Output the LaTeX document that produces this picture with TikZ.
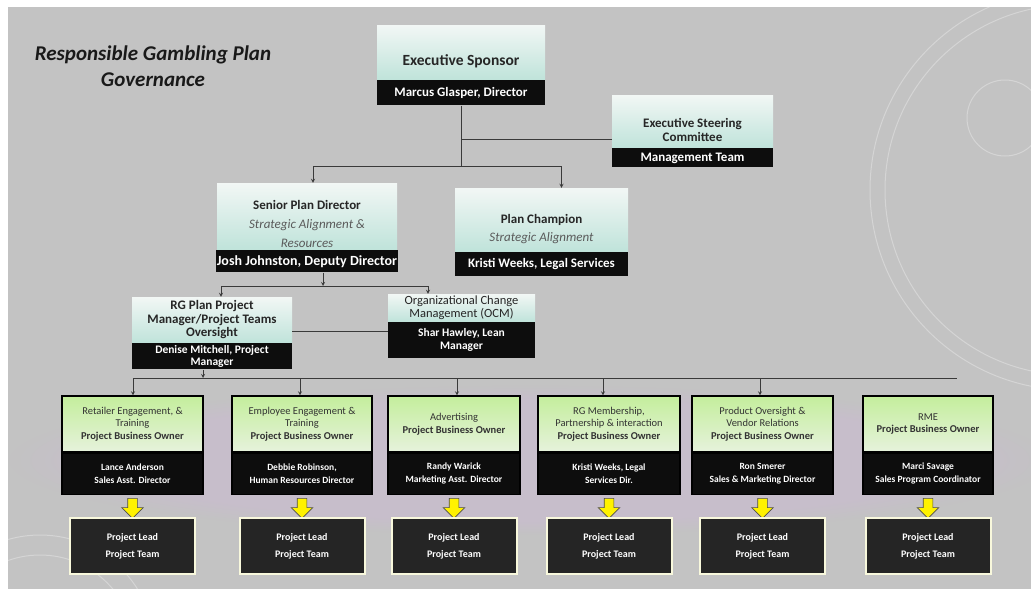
\documentclass[tikz,border=0pt]{standalone}
\usepackage{fontspec}
\setmainfont{Carlito}
\usepackage{tikz}
\usetikzlibrary{shapes.arrows,fadings}
\definecolor{bg}{HTML}{C3C3C3}
\definecolor{glow}{HTML}{CDB8D6}
\definecolor{tealtop}{HTML}{F2F7F5}
\definecolor{tealbot}{HTML}{BFE3DA}
\definecolor{greentop}{HTML}{C4EE9C}
\definecolor{greenbot}{HTML}{E6F2DC}
\definecolor{band}{HTML}{0D0D0D}
\definecolor{cream}{HTML}{F8F8DC}
\definecolor{wire}{HTML}{3A3A3A}
\definecolor{softtext}{HTML}{5A5A5A}
\newcommand{\sink}[1]{\rule{0pt}{#1}}

\begin{document}
\begin{tikzpicture}[x=1pt,y=-1pt,>=stealth,
  topbox/.style={top color=tealtop,bottom color=tealbot,draw=none,inner sep=0pt,align=center,text=black!85},
  namebox/.style={fill=band,text=white,inner sep=1pt,align=center,anchor=north},
  ownerbox/.style={top color=greentop,bottom color=greenbot,draw=black,line width=1.2pt,align=center,font=\fontsize{10.5}{12.5}\selectfont,text=black!80,inner sep=1pt},
  leadbox/.style={fill=band!90!white,draw=cream,line width=2pt,text=white,align=center,font=\bfseries\fontsize{10}{17}\selectfont,minimum width=125pt,minimum height=56pt},
  yarrow/.style={single arrow,fill=yellow,draw=black!70,line width=0.6pt,shape border rotate=270,minimum height=20pt,inner sep=4.5pt,single arrow head extend=6pt,single arrow head indent=0pt},
  link/.style={draw=wire,line width=0.8pt}]
	\useasboundingbox (0,0) rectangle (1031,589);
	\fill[bg] (8,7) rectangle (1031,589);
	\begin{scope}
	\clip (8,7) rectangle (1031,589);
	\fill[glow,opacity=0.45,path fading=circle with fuzzy edge 20 percent] (10,385) rectangle (1050,535);
	\tikzstyle{every path}=[draw=white,opacity=0.3,line width=1pt]
	\draw (1005,118) circle (38pt);
	\draw (1070,190) circle (200pt);
	\draw (1070,190) circle (185pt);
	\draw (40,650) circle (95pt);
	\draw (40,650) circle (115pt);
	\end{scope}

	\node[font=\bfseries\itshape\fontsize{21}{26}\selectfont,align=center,text=black!90] (title) at (153,66) {Responsible Gambling Plan\\Governance};

	\node[topbox,minimum width=168pt,minimum height=55pt,font=\bfseries\fontsize{15.5}{18}\selectfont] (sponsor) at (461,52.5) {\sink{28pt}Executive Sponsor};
	\node[namebox,minimum width=168pt,minimum height=25pt,font=\bfseries\fontsize{13}{15}\selectfont] (sponsorname) at (sponsor.south) {Marcus Glasper, Director};

	\node[topbox,minimum width=161pt,minimum height=53pt,font=\bfseries\fontsize{13}{14}\selectfont] (steering) at (692.5,121.5) {\sink{26pt}Executive Steering\\Committee};
	\node[namebox,minimum width=161pt,minimum height=19pt,font=\bfseries\fontsize{13}{15}\selectfont] (steeringname) at (steering.south) {Management Team};

	\node[topbox,minimum width=180pt,minimum height=67pt,font=\fontsize{13}{19}\selectfont] (senior) at (307,216.5) {\sink{25pt}\textbf{Senior Plan Director}\\\textcolor{softtext}{\itshape Strategic Alignment \&}\\\textcolor{softtext}{\itshape Resources}};
	\node[namebox,minimum width=180pt,minimum height=22pt,font=\bfseries\fontsize{14}{15}\selectfont] (seniorname) at (senior.south) {Josh Johnston, Deputy Director};

	\node[topbox,minimum width=173pt,minimum height=64pt,font=\fontsize{13}{18}\selectfont] (champion) at (541.5,220) {\sink{28pt}\textbf{Plan Champion}\\\textcolor{softtext}{\itshape Strategic Alignment}};
	\node[namebox,minimum width=173pt,minimum height=24pt,font=\bfseries\fontsize{13}{15}\selectfont] (championname) at (champion.south) {Kristi Weeks, Legal Services};

	\node[topbox,minimum width=160pt,minimum height=46pt,font=\bfseries\fontsize{13}{13.5}\selectfont] (manager) at (212,320) {RG Plan Project\\Manager/Project Teams\\Oversight};
	\node[namebox,minimum width=160pt,minimum height=26pt,font=\bfseries\fontsize{11.5}{12}\selectfont] (managername) at (manager.south) {Denise Mitchell, Project\\Manager};

	\node[topbox,minimum width=147pt,minimum height=28pt,font=\fontsize{12.5}{13}\selectfont] (ocm) at (461.5,308) {Organizational Change\\Management (OCM)};
	\node[namebox,minimum width=147pt,minimum height=36pt,font=\bfseries\fontsize{11.5}{13}\selectfont] (ocmname) at (ocm.south) {Shar Hawley, Lean\\Manager};

	\foreach \i/\x/\w/\task/\who in {
		1/132.5/141/{Retailer Engagement, \&\\Training}/{Lance Anderson\\Sales Asst. Director},
		2/302/140/{Employee Engagement \&\\Training}/{Debbie Robinson,\\Human Resources Director},
		3/454/132/{Advertising}/{Randy Warick\\Marketing Asst. Director},
		4/609/142/{RG Membership,\\Partnership \& interaction}/{Kristi Weeks, Legal\\Services Dir.},
		5/762.5/141/{Product Oversight \&\\Vendor Relations}/{Ron Smerer\\Sales \& Marketing Director},
		6/928/130/{RME}/{Marci Savage\\Sales Program Coordinator}} {
		\node[ownerbox,minimum width=\w pt,minimum height=56pt] (owner\i) at (\x,424) {\task\\\textbf{Project Business Owner}};
		\node[namebox,draw=black,line width=1.2pt,minimum width=\w pt,minimum height=41pt,font=\bfseries\fontsize{9.5}{13.5}\selectfont] (ownername\i) at (owner\i.south) {\who};
		\node[yarrow] (push\i) at (\x,506) {};
		\node[leadbox] (lead\i) at (\x,546) {Project Lead\\Project Team};
	}

	\coordinate (top) at (461,166);
	\draw[link] (sponsorname.south) -- (top);
	\draw[link,->] (top) -| ([xshift=6pt]senior.north);
	\draw[link,->] (top) -| ([xshift=20pt]champion.north);
	\coordinate (steerin) at ([yshift=-18pt]steering.west);
	\draw[link] (steerin) -- (steerin -| top);

	\coordinate (mid) at (323,286);
	\coordinate (midl) at (221,286);
	\coordinate (midr) at (428,286);
	\draw[link,->] ([xshift=16pt]seniorname.south) -- (mid);
	\draw[link] (midl) -- (midr);
	\draw[link,->] (midl) -- (midl |- manager.north);
	\draw[link,->] (midr) -- (midr |- ocm.north);
	\coordinate (peer) at ([yshift=-11pt]manager.east);
	\draw[link] (peer) -- (peer -| ocmname.west);

	\coordinate (bus) at (203,378);
	\coordinate (busl) at (133,378);
	\coordinate (busr) at (957,378);
	\draw[link,->] ([xshift=-9pt]managername.south) -- (bus);
	\draw[link] (busl) -- (busr);
	\foreach \i/\x in {1/133,2/300,3/457,4/603,5/760} {
		\coordinate (drop\i) at (\x,378);
		\draw[link,->] (drop\i) -- (drop\i |- owner\i.north);
	}
\end{tikzpicture}
\end{document}
